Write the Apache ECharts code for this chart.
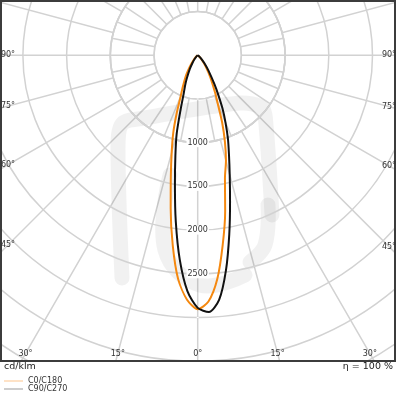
<!DOCTYPE html>
<html><head><meta charset="utf-8">
<script src="https://cdn.jsdelivr.net/npm/echarts@6/dist/echarts.min.js"></script>
<style>html,body{margin:0;padding:0;background:#fff}#c{width:396px;height:396px}</style>
</head><body><div id="c"></div><script>
// ---- data (cd/klm), gamma in degrees, + = right side, - = left side ----
const radiusTicks = [1000, 1500, 2000, 2500];
const angleLabels = [-90, -75, -60, -45, -30, -15, 0, 15, 30, 45, 60, 75, 90];
const seriesNames = ['C0/C180', 'C90/C270'];

const c0Gamma  = [-180, -90, -70, -60, -50, -45, -40, -35, -30, -25, -22.5, -20, -17.5, -15, -12.5, -10, -7.5, -5, -2.5, 0, 2.5, 5, 7.5, 10, 12.5, 15, 17.5, 20, 22.5, 25, 30, 35, 40, 45, 50, 60, 70, 90, 180];
const c0Values = [0, 0, 3, 8, 22, 42, 85, 155, 270, 410, 510, 700, 930, 1150, 1420, 1780, 2190, 2570, 2800, 2905, 2820, 2570, 2190, 1810, 1440, 1250, 1035, 818, 600, 470, 285, 165, 90, 45, 22, 8, 3, 0, 0];

const c90Gamma  = [-180, -90, -70, -60, -50, -45, -40, -35, -30, -25, -22.5, -20, -17.5, -15, -12.5, -10, -7.5, -5, -2.5, 0, 2.5, 5, 7.5, 10, 12.5, 15, 17.5, 20, 22.5, 25, 27.5, 30, 35, 40, 45, 50, 60, 70, 90, 180];
const c90Values = [0, 0, 1, 4, 14, 28, 55, 100, 180, 300, 380, 470, 650, 930, 1180, 1500, 1920, 2350, 2700, 2890, 2940, 2810, 2480, 2080, 1710, 1415, 1190, 1010, 830, 670, 510, 385, 215, 120, 62, 32, 10, 3, 0, 0];

// ---- layout ----
const cx = 197.7, cy = 55.3;           // pole of the diagram
const pxPer500 = 43.7;
const rMax = 4500;
const font = 'DejaVu Sans';
const gridStyle = {color: '#d2d2d2', width: 1.5};

function toPolar(g, v) { return g.map((a, i) => [v[i], (a + 360) % 360]); }

const chart = echarts.init(document.getElementById('c'), null, {renderer: 'canvas'});

const labelEls = angleLabels.map(a => {
  const s = Math.sin(a * Math.PI / 180), c = Math.cos(a * Math.PI / 180);
  let t = Infinity;
  if (Math.abs(s) > 1e-6) t = Math.min(t, (s > 0 ? 389 - cx : cx - 8) / Math.abs(s));
  if (c > 1e-6) t = Math.min(t, (353.5 - cy) / c);
  return {
    type: 'text', z: 12,
    x: cx + s * t, y: cy + c * t,
    style: {text: Math.abs(a) + '°', font: '8px "' + font + '"', fill: '#333', align: 'center', verticalAlign: 'middle'}
  };
});

const wm = {fill: 'none', stroke: 'rgba(0,0,0,0.055)', lineWidth: 15, lineCap: 'round', lineJoin: 'round'};

const option = {
  animation: false,
  backgroundColor: '#fff',
  polar: [
    {center: [cx, cy], radius: rMax / 500 * pxPer500},
    {center: [cx, cy], radius: 2 * pxPer500}
  ],
  angleAxis: [
    {polarIndex: 0, type: 'value', min: 0, max: 360, interval: 15, startAngle: 270, clockwise: false, z: 0,
     axisLine: {show: false}, axisTick: {show: false}, axisLabel: {show: false},
     splitLine: {show: true, lineStyle: gridStyle}},
    {polarIndex: 1, type: 'value', min: 0, max: 360, interval: 11.25, startAngle: 270, clockwise: false, z: 2,
     axisLine: {show: false}, axisTick: {show: false}, axisLabel: {show: false},
     splitLine: {show: true, lineStyle: gridStyle}}
  ],
  radiusAxis: [
    {polarIndex: 0, type: 'value', min: 0, max: rMax, interval: 500, z: 6,
     axisLine: {show: false}, axisTick: {show: false},
     splitLine: {show: true, lineStyle: gridStyle},
     axisLabel: {
       margin: 0, align: 'center', verticalAlign: 'middle',
       fontFamily: font, fontSize: 8, color: '#333', backgroundColor: '#fff', padding: [1, 1, 0, 1],
       formatter: v => radiusTicks.includes(v) ? String(v) : ''
     }},
    {polarIndex: 1, type: 'value', min: 0, max: 1000, interval: 500, show: false}
  ],
  legend: {
    orient: 'vertical', left: 4, top: 377, padding: 0, itemGap: 0, itemWidth: 19, itemHeight: 1, z: 20,
    icon: 'rect',
    textStyle: {fontFamily: font, fontSize: 8, color: '#333', lineHeight: 8},
    data: [
      {name: seriesNames[0], itemStyle: {color: '#fcc48c'}},
      {name: seriesNames[1], itemStyle: {color: '#9a9a9a'}}
    ]
  },
  series: [
    {name: seriesNames[0], type: 'line', coordinateSystem: 'polar', polarIndex: 0, showSymbol: false, symbol: 'none', smooth: 0.25, z: 7,
     lineStyle: {color: '#f5880f', width: 2}, itemStyle: {color: '#f5880f'}, data: toPolar(c0Gamma, c0Values)},
    {name: seriesNames[1], type: 'line', coordinateSystem: 'polar', polarIndex: 0, showSymbol: false, symbol: 'none', smooth: 0.25, z: 8,
     lineStyle: {color: '#111', width: 2}, itemStyle: {color: '#111'}, data: toPolar(c90Gamma, c90Values)}
  ],
  graphic: [
    // ring 500..1000 uses its own finer ray set: hide coarse rays there
    {type: 'circle', z: 1, shape: {cx: cx, cy: cy, r: 2 * pxPer500}, style: {fill: '#fff', stroke: '#d2d2d2', lineWidth: 1.5}},
    // inner disc (rays start at the 500 circle)
    {type: 'circle', z: 3, shape: {cx: cx, cy: cy, r: pxPer500}, style: {fill: '#fff', stroke: '#d2d2d2', lineWidth: 1.5}},
    {type: 'circle', z: 3, shape: {cx: cx, cy: cy, r: 2 * pxPer500}, style: {fill: 'none', stroke: '#d2d2d2', lineWidth: 1.5}},
    // watermark
    {type: 'polyline', z: 4, shape: {points: [[122, 278], [118, 150], [122, 124], [145, 118], [240, 103], [262, 108], [266, 125], [272, 215]], smooth: 0.3}, style: wm},
    {type: 'polyline', z: 4, shape: {points: [[170, 175], [165, 250], [200, 285], [245, 275]], smooth: 0.4}, style: wm},
    {type: 'polyline', z: 4, shape: {points: [[268, 205], [265, 245], [250, 262]], smooth: 0.4}, style: wm},
    // mask outside frame
    {type: 'rect', z: 10, shape: {x: 0, y: 361, width: 396, height: 35}, style: {fill: '#fff'}},
    // frame
    {type: 'rect', z: 11, shape: {x: 1, y: 1, width: 394, height: 360}, style: {fill: 'none', stroke: '#3c3c3c', lineWidth: 2}},
    {type: 'text', z: 12, x: 4, y: 367, style: {text: 'cd/klm', font: '9.5px "' + font + '"', fill: '#222', verticalAlign: 'middle'}},
    {type: 'text', z: 12, x: 393, y: 367, style: {text: 'η = 100 %', font: '9.5px "' + font + '"', fill: '#222', align: 'right', verticalAlign: 'middle'}}
  ].concat(labelEls)
};
chart.setOption(option);
</script></body></html>
